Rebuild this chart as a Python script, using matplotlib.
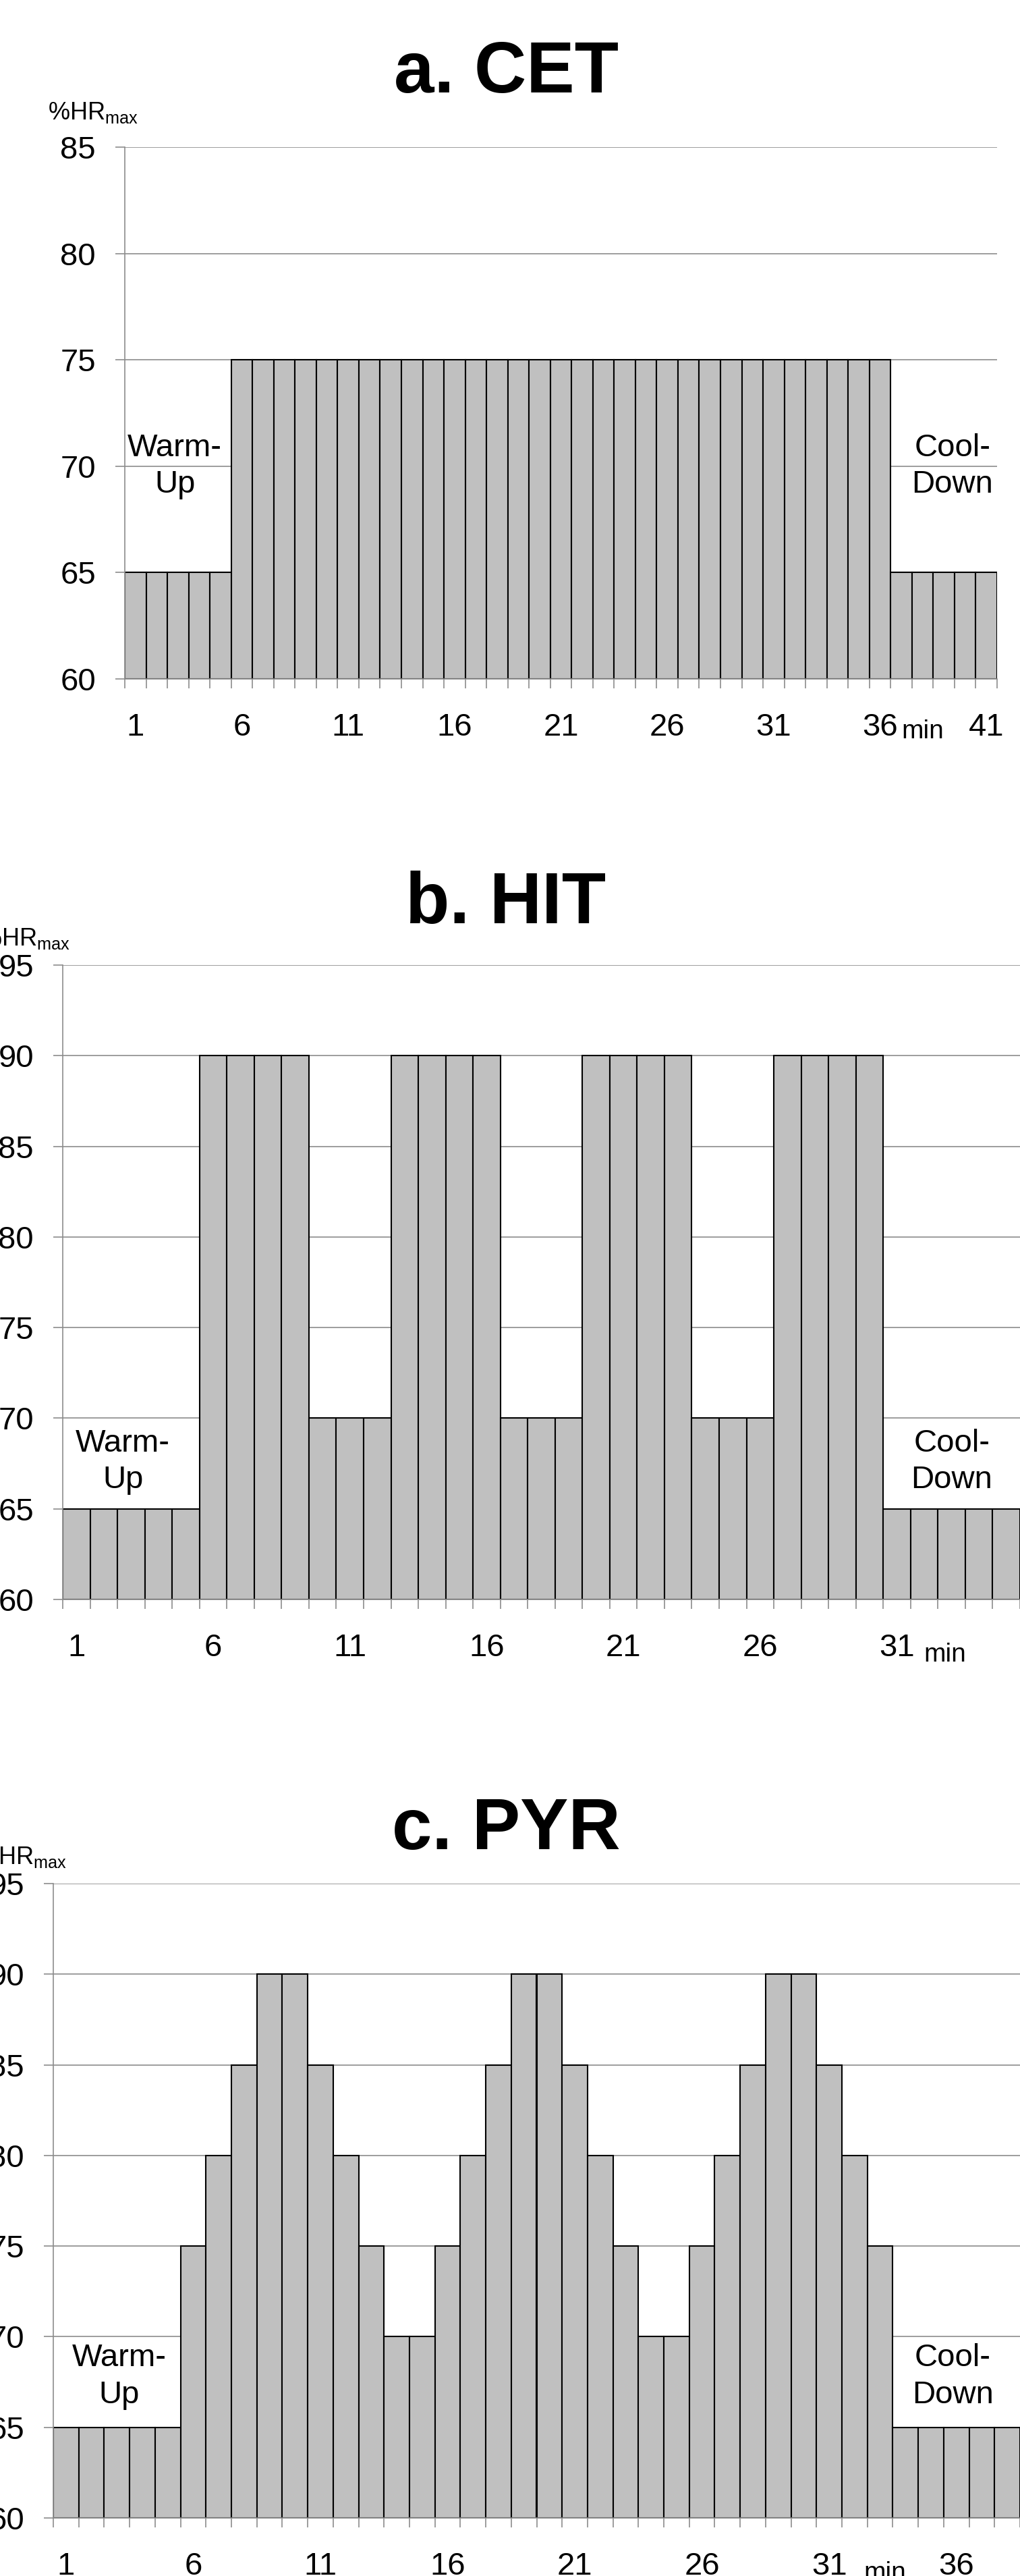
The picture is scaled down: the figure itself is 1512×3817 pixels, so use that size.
import matplotlib
matplotlib.use('Agg')
import matplotlib.pyplot as plt
import numpy as np

plt.rcParams['font.family'] = ['Liberation Sans', 'DejaVu Sans']
plt.rcParams['mathtext.fontset'] = 'custom'
plt.rcParams['mathtext.rm'] = 'Liberation Sans'
plt.rcParams['mathtext.it'] = 'Liberation Sans:italic'

W_PX, H_PX = 1512, 3817
DPI = 100

BAR_COLOR = '#c0c0c0'
GRID_COLOR = '#8c8c8c'
TICK_SIZE = 34
TITLE_SIZE = 77

# %HRmax per minute
CET = [65, 65, 65, 65, 65,
       75, 75, 75, 75, 75, 75, 75, 75, 75, 75, 75, 75, 75, 75, 75, 75,
       75, 75, 75, 75, 75, 75, 75, 75, 75, 75, 75, 75, 75, 75, 75,
       65, 65, 65, 65, 65]
HIT = [65, 65, 65, 65, 65,
       90, 90, 90, 90, 70, 70, 70,
       90, 90, 90, 90, 70, 70, 70,
       90, 90, 90, 90, 70, 70, 70,
       90, 90, 90, 90,
       65, 65, 65, 65, 65]
PYR = [65, 65, 65, 65, 65,
       75, 80, 85, 90, 90, 85, 80, 75, 70, 70,
       75, 80, 85, 90, 90, 85, 80, 75, 70, 70,
       75, 80, 85, 90, 90, 85, 80, 75,
       65, 65, 65, 65, 65]

CET_XTICKS = [1, 6, 11, 16, 21, 26, 31, 36, 41]
HIT_XTICKS = [1, 6, 11, 16, 21, 26, 31]
PYR_XTICKS = [1, 6, 11, 16, 21, 26, 31, 36]

CET_YTICKS = [60, 65, 70, 75, 80, 85]
HITPYR_YTICKS = [60, 65, 70, 75, 80, 85, 90, 95]

# panel layout in pixels: left, top, right, bottom
PANELS = [
    dict(title='a. CET', values=CET, xticks=CET_XTICKS, yticks=CET_YTICKS,
         box=(185, 218, 1478, 1006), title_y=137, label_dx=-114, label_dy=41,
         min_x=38.0, min_dy=88, warm=(2.85, 70.0), cool=(39.4, 70.0)),
    dict(title='b. HIT', values=HIT, xticks=HIT_XTICKS, yticks=HITPYR_YTICKS,
         box=(93, 1430, 1512, 2370), title_y=1368, label_dx=-123, label_dy=29,
         min_x=32.75, min_dy=92, warm=(2.7, 67.6), cool=(33.0, 67.6)),
    dict(title='c. PYR', values=PYR, xticks=PYR_XTICKS, yticks=HITPYR_YTICKS,
         box=(79, 2791, 1512, 3731), title_y=2740, label_dx=-114, label_dy=29,
         min_x=33.2, min_dy=92, warm=(3.1, 67.8), cool=(35.85, 67.8)),
]


def px(v):
    return v * 72.0 / DPI


fig = plt.figure(figsize=(W_PX / DPI, H_PX / DPI), dpi=DPI)

for p in PANELS:
    left, top, right, bottom = p['box']
    ax = fig.add_axes([left / W_PX, 1 - bottom / H_PX,
                       (right - left) / W_PX, (bottom - top) / H_PX])
    vals = p['values']
    n = len(vals)
    x = np.arange(1, n + 1)
    ymin, ymax = p['yticks'][0], p['yticks'][-1]
    ax.bar(x, np.array(vals) - ymin, bottom=ymin, width=1.0,
           color=BAR_COLOR, edgecolor='black', linewidth=1.5, zorder=2)
    ax.set_xlim(0.5, n + 0.5)
    ax.set_ylim(ymin, ymax)

    ax.set_axisbelow(True)
    ax.yaxis.grid(True, color=GRID_COLOR, linewidth=1.2)
    for s in ('top', 'right'):
        ax.spines[s].set_visible(False)
    for s in ('left', 'bottom'):
        ax.spines[s].set_color(GRID_COLOR)
        ax.spines[s].set_linewidth(1.2)

    ax.set_yticks(p['yticks'])
    ax.set_yticklabels([str(t) for t in p['yticks']])
    ax.tick_params(axis='y', length=px(14), width=1.2, color=GRID_COLOR,
                   pad=px(29), labelsize=TICK_SIZE)
    ax.set_xticks(p['xticks'])
    ax.set_xticklabels([str(t) for t in p['xticks']])
    ax.set_xticks(np.arange(0.5, n + 1), minor=True)
    ax.tick_params(axis='x', which='major', length=0, pad=px(50),
                   labelsize=TICK_SIZE)
    ax.tick_params(axis='x', which='minor', length=px(14), width=1.2,
                   color=GRID_COLOR)

    ax.annotate('min', xy=(p['min_x'], 0), xycoords=('data', 'axes fraction'),
                xytext=(0, -px(p['min_dy'])), textcoords='offset points',
                ha='center', va='baseline', fontsize=28)
    ax.annotate('%HR$_{\\mathrm{max}}$', xy=(0, 1), xycoords='axes fraction',
                xytext=(px(p['label_dx']), px(p['label_dy'])),
                textcoords='offset points', ha='left', va='baseline',
                fontsize=26, annotation_clip=False)

    ax.text(*p['warm'], 'Warm-\nUp', ha='center', va='center',
            fontsize=TICK_SIZE, linespacing=1.3)
    ax.text(*p['cool'], 'Cool-\nDown', ha='center', va='center',
            fontsize=TICK_SIZE, linespacing=1.3)

    fig.text(750 / W_PX, 1 - p['title_y'] / H_PX, p['title'],
             ha='center', va='baseline', fontsize=TITLE_SIZE,
             fontweight='bold')

fig.savefig('out.png', dpi=DPI)
